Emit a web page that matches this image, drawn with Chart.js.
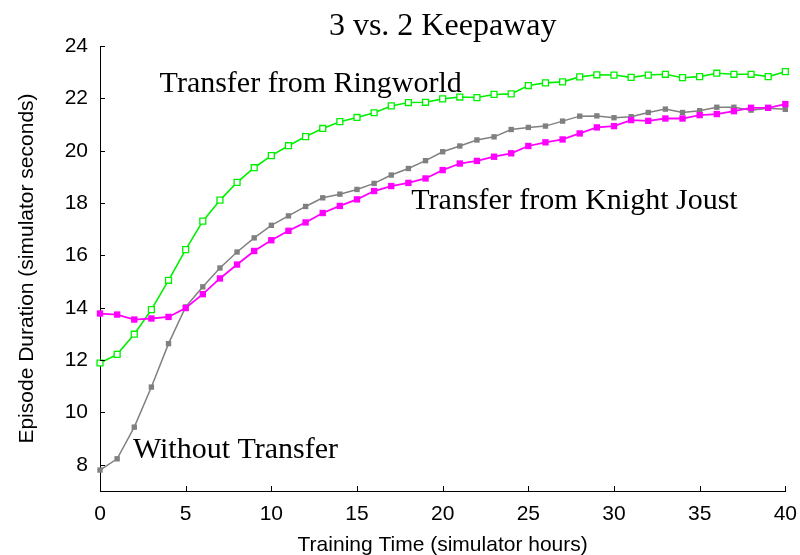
<!DOCTYPE html>
<html>
<head>
<meta charset="utf-8">
<script src="https://cdn.jsdelivr.net/npm/chart.js@4.4.1/dist/chart.umd.min.js"></script>
<style>
  html, body { margin: 0; padding: 0; background: #fff; }
  #wrap { width: 800px; height: 555px; }
</style>
</head>
<body>
<div id="wrap"><canvas id="keepawayChart" width="800" height="555"></canvas></div>
<script>
// training time in simulator hours
const hours = [0, 1, 2, 3, 4, 5, 6, 7, 8, 9, 10, 11, 12, 13, 14, 15, 16, 17, 18, 19, 20,
  21, 22, 23, 24, 25, 26, 27, 28, 29, 30, 31, 32, 33, 34, 35, 36, 37, 38, 39, 40];

// episode duration (simulator seconds)
const ringworld = [11.89, 12.22, 12.99, 13.93, 15.05, 16.22, 17.31, 18.11, 18.79, 19.35, 19.81,
  20.19, 20.54, 20.85, 21.11, 21.27, 21.45, 21.71, 21.84, 21.85, 21.98,
  22.05, 22.03, 22.15, 22.17, 22.49, 22.59, 22.63, 22.82, 22.9, 22.89,
  22.8, 22.89, 22.92, 22.79, 22.83, 22.96, 22.92, 22.92, 22.83, 23.02];
const knightJoust = [13.78, 13.74, 13.55, 13.59, 13.65, 13.99, 14.52, 15.12, 15.65, 16.17, 16.58,
  16.94, 17.26, 17.62, 17.89, 18.14, 18.46, 18.65, 18.77, 18.94, 19.26,
  19.51, 19.61, 19.77, 19.9, 20.18, 20.32, 20.43, 20.66, 20.89, 20.94,
  21.17, 21.14, 21.23, 21.23, 21.36, 21.4, 21.51, 21.64, 21.64, 21.78];
const withoutTransfer = [7.8, 8.23, 9.44, 10.97, 12.63, 14.03, 14.8, 15.52, 16.13, 16.67, 17.15,
  17.51, 17.87, 18.2, 18.34, 18.52, 18.75, 19.07, 19.32, 19.62, 19.96,
  20.18, 20.41, 20.53, 20.81, 20.89, 20.94, 21.13, 21.32, 21.33, 21.26,
  21.3, 21.46, 21.59, 21.46, 21.53, 21.66, 21.66, 21.55, 21.62, 21.58];

const xTicks = [0, 5, 10, 15, 20, 25, 30, 35, 40];
const yTicks = [8, 10, 12, 14, 16, 18, 20, 22, 24];

const chartTitle = "3 vs. 2 Keepaway";
const xTitle = "Training Time (simulator hours)";
const yTitle = "Episode Duration (simulator seconds)";

// curve labels, placed in data coordinates
const notes = [
  { text: "Transfer from Ringworld", x: 3.48, y: 22.24 },
  { text: "Transfer from Knight Joust", x: 18.17, y: 17.78 },
  { text: "Without Transfer", x: 1.92, y: 8.27 }
];

function toPoints(values) {
  return hours.map((h, i) => ({ x: h, y: values[i] }));
}

const serif = "'Liberation Serif', 'Times New Roman', serif";
const sans = "'Liberation Sans', Arial, Helvetica, sans-serif";

// title, curve labels and inward tick marks
const decorations = {
  id: "decorations",
  afterDraw(chart) {
    const ctx = chart.ctx;
    const area = chart.chartArea;
    const xs = chart.scales.x;
    const ys = chart.scales.y;
    ctx.save();

    ctx.strokeStyle = "#000";
    ctx.lineWidth = 1;
    ctx.beginPath();
    xTicks.forEach(v => {
      const px = Math.round(xs.getPixelForValue(v)) + 0.5;
      ctx.moveTo(px, area.bottom);
      ctx.lineTo(px, area.bottom - 5);
    });
    yTicks.forEach(v => {
      const py = Math.round(ys.getPixelForValue(v)) + 0.5;
      ctx.moveTo(area.left, py);
      ctx.lineTo(area.left + 5, py);
    });
    ctx.stroke();

    ctx.fillStyle = "#000";
    ctx.font = "32px " + serif;
    ctx.textAlign = "center";
    ctx.textBaseline = "alphabetic";
    ctx.fillText(chartTitle, (area.left + area.right) / 2, 35);

    ctx.font = "30px " + serif;
    ctx.textAlign = "left";
    notes.forEach(n => {
      ctx.fillText(n.text, xs.getPixelForValue(n.x), ys.getPixelForValue(n.y));
    });
    ctx.restore();
  }
};

const ctx = document.getElementById("keepawayChart").getContext("2d");
const keepawayChart = new Chart(ctx, {
  type: "line",
  data: {
    datasets: [
      {
        label: "Transfer from Knight Joust",
        data: toPoints(knightJoust),
        borderColor: "#ff00ff",
        backgroundColor: "#ff00ff",
        borderWidth: 1.8,
        pointStyle: "rect",
        pointRadius: 4.5,
        pointBorderWidth: 0,
        clip: false
      },
      {
        label: "Without Transfer",
        data: toPoints(withoutTransfer),
        borderColor: "#808080",
        backgroundColor: "#808080",
        borderWidth: 1.5,
        pointStyle: "rect",
        pointRadius: 3.8,
        pointBorderWidth: 0,
        clip: false
      },
      {
        label: "Transfer from Ringworld",
        data: toPoints(ringworld),
        borderColor: "#00f000",
        backgroundColor: "#ffffff",
        borderWidth: 1.6,
        pointStyle: "rect",
        pointRadius: 4.2,
        pointBorderWidth: 1.3,
        pointBorderColor: "#00f000",
        pointBackgroundColor: "#ffffff",
        clip: false
      }
    ]
  },
  options: {
    responsive: false,
    animation: false,
    events: [],
    layout: { padding: { left: 0, right: 0, top: 46, bottom: 0 } },
    plugins: {
      legend: { display: false },
      title: { display: false },
      tooltip: { enabled: false }
    },
    elements: { line: { tension: 0 } },
    scales: {
      x: {
        type: "linear",
        min: 0,
        max: 40,
        afterBuildTicks: scale => { scale.ticks = xTicks.map(v => ({ value: v })); },
        afterFit: scale => { scale.height = 64; },
        grid: { display: false },
        border: { display: true, color: "#000", width: 1 },
        ticks: {
          color: "#000",
          font: { family: sans, size: 21 },
          padding: 3,
          maxRotation: 0
        },
        title: {
          display: true,
          text: xTitle,
          color: "#000",
          font: { family: sans, size: 21 },
          padding: { top: 0, bottom: -3 }
        }
      },
      y: {
        type: "linear",
        min: 7,
        max: 24,
        afterBuildTicks: scale => { scale.ticks = yTicks.map(v => ({ value: v })); },
        afterFit: scale => { scale.width = 100; },
        grid: { display: false },
        border: { display: true, color: "#000", width: 1 },
        ticks: {
          color: "#000",
          font: { family: sans, size: 21 },
          padding: 4
        },
        title: {
          display: true,
          text: yTitle,
          color: "#000",
          font: { family: sans, size: 21 },
          padding: { top: 15, bottom: 0 }
        }
      }
    }
  },
  plugins: [decorations]
});
</script>
</body>
</html>
